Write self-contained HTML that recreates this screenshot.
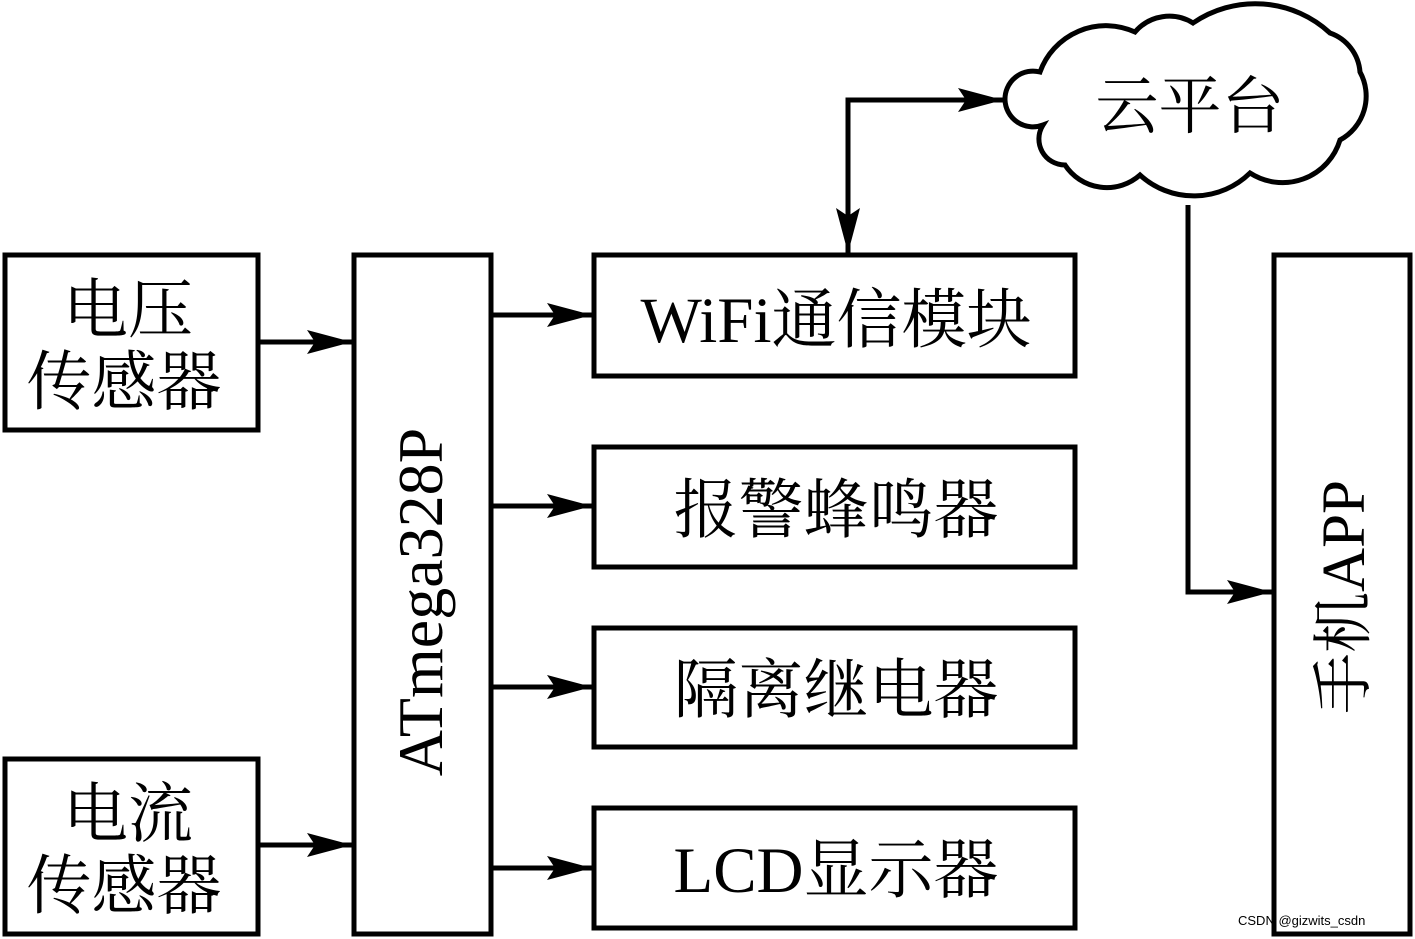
<!DOCTYPE html>
<html><head><meta charset="utf-8"><style>
html,body{margin:0;padding:0;background:#fff;}
svg{display:block}
text{font-family:"Liberation Serif","Noto Serif CJK SC",serif;fill:#000}
</style></head><body>
<svg width="1415" height="939" viewBox="0 0 1415 939" xmlns="http://www.w3.org/2000/svg">
<defs>
<marker id="ah" markerWidth="46" markerHeight="26" refX="45" refY="13" orient="auto" markerUnits="userSpaceOnUse">
<path d="M0,1 L45,13 L0,25 L8,13 Z" fill="#000"/>
</marker>
</defs>
<g fill="none" stroke="#000" stroke-width="5">
<rect x="5" y="255" width="253" height="175"/>
<rect x="5" y="759" width="253" height="175"/>
<rect x="354" y="255" width="137" height="679"/>
<rect x="594" y="255" width="481" height="121"/>
<rect x="594" y="447" width="481" height="120"/>
<rect x="594" y="628" width="481" height="119"/>
<rect x="594" y="808" width="481" height="120"/>
<rect x="1274" y="255" width="136" height="679"/>
<line x1="258" y1="342" x2="352" y2="342" marker-end="url(#ah)"/>
<line x1="258" y1="845" x2="352" y2="845" marker-end="url(#ah)"/>
<line x1="491" y1="315" x2="592" y2="315" marker-end="url(#ah)"/>
<line x1="491" y1="506" x2="592" y2="506" marker-end="url(#ah)"/>
<line x1="491" y1="687" x2="592" y2="687" marker-end="url(#ah)"/>
<line x1="491" y1="868" x2="592" y2="868" marker-end="url(#ah)"/>
<polyline points="848,100 848,253" marker-end="url(#ah)"/>
<polyline points="848,102 848,100 1003,100" marker-end="url(#ah)"/>
<polyline points="1188,205 1188,592 1272,592" marker-end="url(#ah)"/>
<path d="M1005,100 A28,28 0 0 1 1040,72 A70,70 0 0 1 1135,32 A45,45 0 0 1 1193,23 A110,110 0 0 1 1330,33 A45,45 0 0 1 1360,72 A50,50 0 0 1 1340,140 A60,60 0 0 1 1250,173 A80,80 0 0 1 1140,175 A50,50 0 0 1 1065,165 A26,26 0 0 1 1043,125 A28,28 0 0 1 1005,100 Z" fill="#fff"/>
</g>
<g font-size="65" text-anchor="middle">
<text x="128" y="332">电压</text>
<text x="124" y="404">传感器</text>
<text x="128" y="836">电流</text>
<text x="124" y="908">传感器</text>
<text x="836" y="342">WiFi通信模块</text>
<text x="836" y="532">报警蜂鸣器</text>
<text x="836" y="712">隔离继电器</text>
<text x="836" y="892">LCD显示器</text>
<text x="1190" y="128" font-size="63">云平台</text>
<text transform="translate(442,602) rotate(-90)" font-size="64">ATmega328P</text>
<text transform="translate(1364,597) rotate(-90)" font-size="61">手机APP</text>
</g>
<text x="1238" y="925" font-size="13" style="font-family:'Liberation Sans',sans-serif" fill="#aaa">CSDN @gizwits_csdn</text>
</svg>
</body></html>
